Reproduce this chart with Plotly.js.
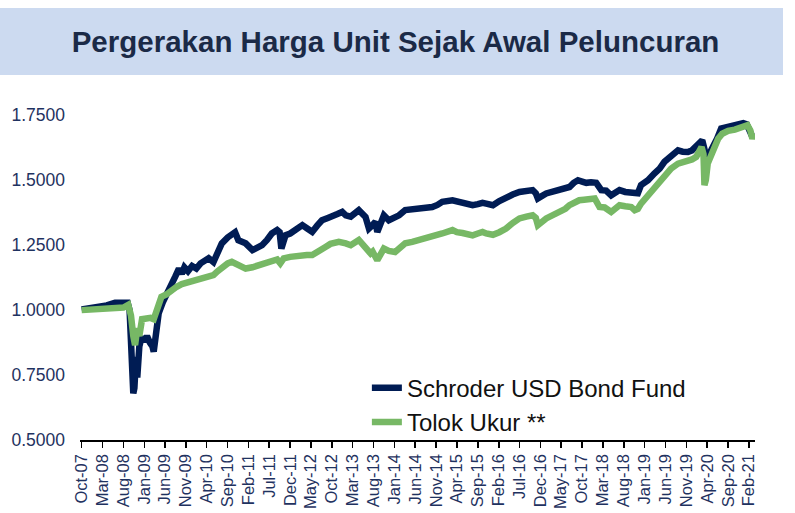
<!DOCTYPE html>
<html>
<head>
<meta charset="utf-8">
<script src="https://cdn.plot.ly/plotly-3.0.1.min.js"></script>
<style>
  html, body { margin: 0; padding: 0; background: #ffffff; }
  #chart { width: 795px; height: 513px; }
</style>
</head>
<body>
<div id="chart"></div>
<script>
// ---- Data ----
const chartTitle = "Pergerakan Harga Unit Sejak Awal Peluncuran";
const fundName = "Schroder USD Bond Fund";
const benchName = "Tolok Ukur **";

const fundDates = [
  "2007-10-01","2008-01-01","2008-04-01","2008-06-01","2008-08-01","2008-09-01","2008-09-15",
  "2008-10-12","2008-10-20","2008-11-01","2008-11-10","2008-11-25","2008-12-12","2009-01-01",
  "2009-01-20","2009-02-10","2009-03-01","2009-03-10","2009-04-01","2009-04-15","2009-05-15",
  "2009-06-15","2009-07-15","2009-08-15","2009-09-10","2009-10-01","2009-10-20","2009-11-15",
  "2009-12-15","2010-01-15","2010-02-15","2010-03-15","2010-04-15","2010-05-20","2010-07-20",
  "2010-09-01","2010-10-01","2010-10-25","2010-11-18","2011-01-10","2011-03-01","2011-04-01",
  "2011-05-10","2011-06-15","2011-07-20","2011-08-28","2011-09-15","2011-09-28","2011-10-28",
  "2011-12-01","2012-01-10","2012-02-28","2012-04-01","2012-05-10","2012-06-15","2012-07-20",
  "2012-09-01","2012-10-03","2012-11-10","2012-12-15","2013-01-10","2013-02-15","2013-04-15",
  "2013-06-03","2013-06-28","2013-07-20","2013-08-15","2013-08-28","2013-10-15","2013-11-20",
  "2014-01-01","2014-02-03","2014-03-20","2014-05-10","2014-06-28","2014-08-15","2014-10-03",
  "2014-11-10","2014-12-15","2015-02-28","2015-04-01","2015-05-12","2015-06-20","2015-07-25",
  "2015-09-01","2015-10-05","2015-11-01","2015-12-20","2016-02-05","2016-03-25","2016-05-12",
  "2016-07-01","2016-08-20","2016-10-05","2016-10-28","2016-11-12","2017-01-12","2017-03-01",
  "2017-04-20","2017-06-01","2017-07-01","2017-08-01","2017-09-01","2017-10-01","2017-11-01",
  "2017-12-05","2018-01-12","2018-02-18","2018-03-25","2018-05-01","2018-06-01","2018-07-01",
  "2018-08-12","2018-09-25","2018-10-20","2018-11-12","2018-12-05","2019-01-25","2019-03-12",
  "2019-04-20","2019-05-25","2019-07-12","2019-09-01","2019-10-05","2019-11-12","2019-12-12",
  "2020-01-12","2020-02-25","2020-03-12","2020-03-22","2020-04-15","2020-05-15","2020-06-12",
  "2020-07-12","2020-09-01","2020-10-20","2020-12-20","2021-01-15","2021-02-05","2021-02-25",
  "2021-03-10"
];
const fundValues = [
  1.003,1.008,1.018,1.028,1.025,1.028,1.000,
  0.680,0.700,0.820,0.740,0.860,0.897,0.880,
  0.900,0.875,0.860,0.840,0.930,0.987,1.030,
  1.060,1.090,1.130,1.160,1.140,1.165,1.150,
  1.170,1.160,1.180,1.190,1.200,1.185,1.257,
  1.280,1.295,1.300,1.269,1.257,1.231,1.240,
  1.250,1.270,1.295,1.308,1.300,1.237,1.288,
  1.295,1.308,1.327,1.315,1.301,1.325,1.346,
  1.355,1.365,1.370,1.378,1.365,1.360,1.385,
  1.359,1.314,1.325,1.340,1.301,1.365,1.346,
  1.355,1.365,1.385,1.388,1.391,1.390,1.397,
  1.405,1.417,1.423,1.420,1.417,1.410,1.404,
  1.408,1.413,1.410,1.404,1.420,1.436,1.445,
  1.455,1.458,1.462,1.450,1.430,1.449,1.455,
  1.462,1.468,1.474,1.490,1.500,1.495,1.490,
  1.492,1.490,1.462,1.460,1.442,1.452,1.462,
  1.455,1.451,1.455,1.450,1.481,1.500,1.526,
  1.545,1.571,1.595,1.615,1.610,1.609,1.615,
  1.628,1.654,1.620,1.577,1.600,1.628,1.660,
  1.699,1.705,1.712,1.720,1.715,1.692,1.667,
  1.679
];

const benchDates = [
  "2007-10-01","2008-01-01","2008-04-01","2008-06-01","2008-08-01","2008-09-05","2008-09-25",
  "2008-10-12","2008-10-25","2008-11-10","2008-11-25","2008-12-15","2009-01-15","2009-02-15",
  "2009-03-10","2009-04-05","2009-05-05","2009-06-10","2009-07-15","2009-08-25","2009-10-01",
  "2009-11-20","2010-01-01","2010-02-25","2010-04-01","2010-05-20","2010-06-20","2010-07-25",
  "2010-09-01","2010-10-01","2010-11-01","2011-01-10","2011-03-01","2011-04-15","2011-06-01",
  "2011-07-20","2011-08-28","2011-09-20","2011-10-15","2011-12-01","2012-02-05","2012-04-01",
  "2012-05-10","2012-06-20","2012-08-15","2012-09-20","2012-11-20","2013-01-10","2013-02-15",
  "2013-04-15","2013-06-03","2013-07-10","2013-07-25","2013-08-28","2013-10-15","2013-11-20",
  "2014-01-05","2014-02-20","2014-03-20","2014-05-10","2014-06-28","2014-08-15","2014-10-03",
  "2014-11-10","2014-12-15","2015-02-28","2015-04-01","2015-05-12","2015-06-20","2015-07-25",
  "2015-09-01","2015-10-05","2015-11-01","2015-12-20","2016-02-05","2016-03-25","2016-05-12",
  "2016-07-01","2016-08-20","2016-10-05","2016-10-28","2016-11-12","2017-01-12","2017-03-01",
  "2017-04-20","2017-06-01","2017-07-01","2017-08-05","2017-09-10","2017-10-15","2017-11-20",
  "2018-01-01","2018-02-05","2018-03-15","2018-05-01","2018-06-01","2018-07-01","2018-08-12",
  "2018-09-25","2018-10-20","2018-11-12","2018-12-05","2019-01-25","2019-03-12","2019-04-20",
  "2019-05-25","2019-07-12","2019-09-01","2019-10-05","2019-11-12","2019-12-12","2020-01-12",
  "2020-02-20","2020-03-05","2020-03-12","2020-03-22","2020-04-05","2020-05-20","2020-06-20",
  "2020-07-20","2020-09-01","2020-10-20","2020-12-01","2021-01-01","2021-01-20","2021-02-10",
  "2021-02-25","2021-03-10"
];
const benchValues = [
  1.000,1.003,1.008,1.013,1.010,1.020,0.980,
  0.900,0.865,0.930,0.900,0.965,0.968,0.970,
  0.965,1.000,1.051,1.060,1.075,1.090,1.100,
  1.109,1.115,1.122,1.128,1.135,1.150,1.167,
  1.180,1.186,1.180,1.160,1.165,1.173,1.180,
  1.192,1.195,1.180,1.199,1.205,1.212,1.212,
  1.212,1.228,1.243,1.255,1.263,1.257,1.250,
  1.270,1.243,1.218,1.225,1.192,1.237,1.228,
  1.224,1.240,1.257,1.263,1.269,1.275,1.282,
  1.288,1.295,1.308,1.300,1.297,1.290,1.288,
  1.295,1.301,1.295,1.290,1.300,1.314,1.335,
  1.353,1.360,1.365,1.355,1.327,1.353,1.365,
  1.378,1.390,1.404,1.415,1.423,1.425,1.430,
  1.430,1.397,1.395,1.378,1.390,1.404,1.400,
  1.397,1.385,1.390,1.410,1.440,1.474,1.495,
  1.519,1.545,1.564,1.570,1.571,1.580,1.590,
  1.628,1.600,1.481,1.500,1.564,1.628,1.660,
  1.679,1.690,1.695,1.705,1.712,1.712,1.692,
  1.660,1.679
];

const yTickValues = [0.5, 0.75, 1.0, 1.25, 1.5, 1.75];
const xTickStart = "2007-10-01";   // first tick label: Oct-07, then every 5 months
const xRange = ["2007-09-19", "2021-03-16"];
const yRange = [0.5, 1.755];

// ---- Styles ----
const navy = "#001c54";
const green = "#77b865";
const labelColor = "#1f3260";

const traces = [
  {
    type: "scatter", mode: "lines", name: fundName,
    x: fundDates, y: fundValues,
    line: { color: navy, width: 6.5 },
    hoverinfo: "skip"
  },
  {
    type: "scatter", mode: "lines", name: benchName,
    x: benchDates, y: benchValues,
    line: { color: green, width: 6.5 },
    hoverinfo: "skip"
  }
];

const layout = {
  width: 795, height: 513,
  margin: { l: 80, r: 40, t: 114, b: 73, pad: 0 },
  paper_bgcolor: "#ffffff",
  plot_bgcolor: "#ffffff",
  font: { family: "Liberation Sans, Arial, sans-serif", color: labelColor },
  title: {
    text: chartTitle,
    xref: "container", yref: "container",
    x: 0.4975, xanchor: "center",
    y: 1 - 42 / 513, yanchor: "middle",
    font: { family: "Liberation Sans, Arial, sans-serif", size: 29.5, color: "#1b2a47", weight: "bold" }
  },
  showlegend: true,
  legend: {
    x: 0.425, xanchor: "left",
    y: 0.228, yanchor: "top",
    bgcolor: "rgba(0,0,0,0)",
    borderwidth: 0,
    font: { family: "Liberation Sans, Arial, sans-serif", size: 24, color: "#111111" },
    tracegroupgap: 0
  },
  xaxis: {
    type: "date",
    range: xRange,
    tick0: xTickStart,
    dtick: "M5",
    tickformat: "%b-%y",
    tickangle: -90,
    ticks: "outside", ticklen: 6, tickwidth: 1.5, tickcolor: "#000000",
    showline: true, linecolor: "#000000", linewidth: 1.5,
    showgrid: false, zeroline: false,
    tickfont: { family: "Liberation Sans, Arial, sans-serif", size: 16.5, color: labelColor },
    fixedrange: true
  },
  yaxis: {
    range: yRange,
    tickmode: "array",
    tickvals: yTickValues,
    tickformat: ".4f",
    showline: false, showgrid: false, zeroline: false,
    ticks: "",
    ticklabelstandoff: 14,
    tickfont: { family: "Liberation Sans, Arial, sans-serif", size: 17.5, color: labelColor },
    fixedrange: true
  },
  shapes: [
    {
      type: "rect", xref: "paper", yref: "paper",
      x0: -80 / 675, x1: 703 / 675,
      y0: (440 - 75) / 326, y1: (440 - 8) / 326,
      fillcolor: "#ccdaf0", line: { width: 0 }, layer: "below"
    }
  ]
};

Plotly.newPlot("chart", traces, layout, { displayModeBar: false, staticPlot: true });
</script>
</body>
</html>
